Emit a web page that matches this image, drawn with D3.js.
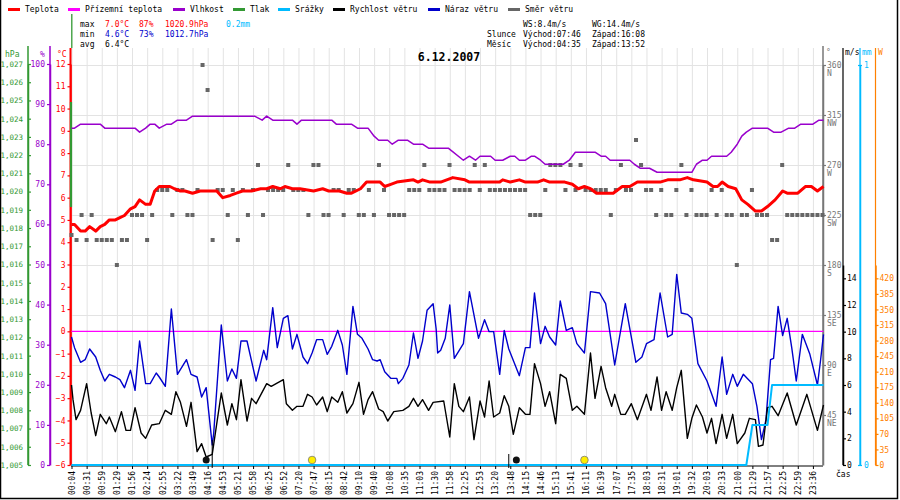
<!DOCTYPE html>
<html>
<head>
<meta charset="utf-8">
<script src="https://cdn.jsdelivr.net/npm/d3@7/dist/d3.min.js"></script>
<style>
  body { margin: 0; background: #fff; }
  svg text { font-family: "DejaVu Sans Mono", monospace; }
</style>
</head>
<body>
<div id="chart"></div>
<script>
// ── DATA ──────────────────────────────────────────────────────────────────
// One day of station records (6.12.2007). x = record number (0..497);
// a time label is printed every 10 records.
const xLabels = [
  "00:04","00:31","00:59","01:29","01:56","02:24","02:55","03:22","03:49","04:16",
  "04:53","05:21","05:58","06:25","06:52","07:20","07:47","08:15","08:42","09:10",
  "09:40","10:08","10:35","11:03","11:30","11:58","12:25","12:53","13:20","13:48",
  "14:15","14:46","15:13","15:41","16:11","16:39","17:07","17:35","18:03","18:31",
  "19:01","19:32","20:03","20:33","21:00","21:29","21:57","22:25","22:59","23:36"
];
const lastRecord = 497;

// [record, °C]
const temperature = [
  [0,4.8],[2,4.8],[6,4.5],[9,4.5],[12,4.7],[16,4.5],[19,4.7],[22,4.8],[25,5.0],[29,5.0],
  [32,5.1],[35,5.2],[39,5.5],[42,5.6],[45,5.9],[49,5.7],[52,5.7],[55,6.3],[58,6.5],[62,6.5],
  [65,6.5],[68,6.4],[72,6.3],[75,6.3],[80,6.2],[85,6.3],[92,6.3],[96,6.3],[100,6.0],[105,6.1],
  [109,6.2],[113,6.3],[119,6.3],[125,6.4],[129,6.4],[133,6.5],[138,6.4],[141,6.5],[146,6.4],[151,6.4],
  [160,6.3],[166,6.4],[170,6.3],[177,6.3],[182,6.2],[185,6.2],[191,6.4],[195,6.7],[199,6.7],[204,6.7],
  [207,6.5],[211,6.6],[215,6.7],[226,6.8],[229,6.7],[232,6.8],[237,6.7],[244,6.7],[252,6.9],[260,6.8],
  [263,6.7],[283,6.7],[285,6.8],[290,6.7],[296,6.8],[300,6.7],[308,6.7],[312,6.8],[316,6.7],[326,6.7],
  [331,6.6],[335,6.4],[339,6.5],[343,6.4],[347,6.2],[358,6.2],[364,6.5],[369,6.5],[374,6.7],[389,6.7],
  [394,6.8],[402,6.8],[407,6.9],[411,6.8],[420,6.7],[424,6.5],[427,6.5],[430,6.7],[434,6.5],[439,6.4],
  [443,5.9],[447,5.7],[452,5.4],[456,5.4],[460,5.6],[465,5.9],[470,6.3],[473,6.2],[480,6.2],[485,6.5],
  [489,6.5],[493,6.3],[497,6.5]
];

// [record, °C] – ground temperature sensor reads 0 all day
const groundTemp = [[0,0],[497,0]];

// [record, %]
const humidity = [
  [0,84],[2,84],[6,85],[19,85],[22,84],[42,84],[45,83],[49,84],[52,85],[55,85],
  [58,84],[63,85],[66,85],[70,86],[76,86],[80,87],[121,87],[126,86],[129,87],[133,86],
  [146,86],[149,85],[152,86],[172,86],[175,85],[185,85],[189,84],[196,84],[200,82],[203,81],
  [209,81],[212,80],[216,81],[222,81],[226,80],[232,80],[236,79],[249,79],[259,76],[263,77],
  [267,76],[270,77],[277,77],[280,76],[285,76],[290,77],[293,77],[296,76],[300,76],[304,77],
  [306,77],[310,76],[313,75],[325,75],[329,76],[333,78],[346,78],[350,77],[353,77],[356,76],
  [369,76],[372,75],[376,74],[382,74],[387,73],[410,73],[413,75],[417,76],[420,76],[423,77],
  [433,77],[436,78],[440,80],[443,82],[446,83],[450,84],[460,84],[464,83],[469,83],[474,84],
  [478,84],[482,85],[490,85],[494,86],[497,86]
];

// [record, mm] – daily precipitation total
const rainfall = [[0,0],[446,0],[450,0.1],[460,0.1],[463,0.2],[497,0.2]];

// [record, m/s]
const windSpeed = [
  [0,6.0],[1,4.9],[3,3.4],[6,4.1],[10,6.1],[13,3.9],[16,2.2],[19,3.8],[23,3.1],[25,3.6],
  [29,2.5],[33,4.0],[36,2.6],[39,2.6],[42,4.3],[46,2.4],[49,2.0],[53,3.0],[58,3.1],[62,4.1],
  [66,3.8],[69,5.5],[72,4.7],[76,2.9],[79,4.7],[83,1.0],[86,1.6],[89,0.6],[93,0.8],[96,3.1],
  [99,5.4],[103,3.0],[106,4.6],[109,3.4],[112,6.4],[116,3.3],[119,5.0],[122,4.6],[129,6.1],[132,5.9],
  [140,6.4],[142,4.6],[146,4.1],[149,4.4],[153,4.4],[156,5.3],[159,5.1],[162,4.5],[166,5.1],[169,4.0],
  [172,5.1],[176,4.7],[179,5.5],[182,3.9],[186,4.6],[190,6.2],[193,3.8],[196,4.9],[199,5.5],[203,4.2],
  [206,4.0],[209,3.3],[213,4.0],[219,4.1],[223,4.4],[226,5.0],[229,4.4],[232,4.9],[236,4.1],[239,4.7],
  [246,4.8],[250,2.1],[253,6.1],[256,4.4],[259,4.0],[263,5.1],[266,1.9],[270,4.8],[273,3.6],[276,6.3],
  [279,3.6],[283,3.9],[286,5.2],[289,4.4],[292,2.3],[296,4.3],[300,3.8],[303,3.8],[306,7.6],[310,6.1],
  [313,4.4],[316,5.5],[320,3.1],[323,6.8],[327,6.5],[331,4.1],[334,4.4],[339,3.8],[343,8.4],[346,5.0],
  [350,7.4],[353,5.8],[357,4.4],[359,5.3],[363,3.8],[366,3.8],[370,4.6],[374,3.4],[380,5.3],[383,4.1],
  [387,6.6],[390,4.1],[393,5.5],[397,4.1],[400,5.8],[403,7.1],[407,2.0],[410,3.5],[413,4.5],[417,3.6],
  [420,2.4],[423,3.5],[426,1.6],[430,3.8],[433,2.0],[437,3.8],[440,1.6],[445,2.4],[448,3.5],[452,3.4],
  [454,1.4],[457,1.5],[460,4.3],[463,4.4],[467,3.7],[473,5.4],[479,3.0],[486,5.3],[493,2.6],[497,4.5]
];

// [record, m/s]
const windGust = [
  [0,9.6],[2,8.8],[6,7.7],[9,7.9],[12,8.7],[16,8.1],[19,7.1],[22,6.3],[25,6.8],[29,6.6],
  [32,6.4],[35,5.8],[39,7.1],[42,5.6],[45,9.3],[49,6.1],[52,6.1],[56,6.9],[58,6.6],[62,5.9],
  [66,11.7],[70,6.8],[76,7.9],[79,6.8],[83,6.6],[86,5.1],[89,5.8],[93,1.5],[94,2.4],[99,10.5],
  [103,6.3],[106,7.2],[109,6.5],[112,9.3],[116,9.3],[122,6.3],[127,8.6],[129,7.9],[133,11.8],[136,8.8],
  [140,11.0],[143,11.2],[146,8.7],[149,9.8],[153,8.1],[156,7.6],[159,8.4],[162,9.4],[166,9.4],[169,8.3],
  [172,8.9],[176,10.1],[179,9.0],[182,6.8],[186,11.9],[189,9.8],[192,9.5],[196,8.7],[199,7.9],[202,7.8],
  [204,7.9],[207,7.0],[211,6.5],[215,6.5],[216,6.1],[219,6.5],[223,7.5],[226,9.9],[229,8.0],[232,9.3],
  [235,11.6],[239,12.1],[241,10.2],[242,8.4],[244,8.6],[247,9.5],[250,12.0],[253,8.0],[259,9.1],[263,13.0],
  [269,9.5],[273,10.9],[276,10.0],[279,10.0],[283,6.8],[286,10.1],[289,8.7],[296,6.7],[300,8.8],[303,8.8],
  [306,12.9],[310,9.1],[313,10.4],[316,9.6],[320,9.0],[323,12.3],[327,10.1],[331,10.3],[334,9.1],[339,8.4],
  [343,13.0],[349,12.9],[353,12.1],[359,7.5],[366,12.1],[373,7.7],[377,8.1],[380,9.1],[385,9.4],[389,12.9],
  [394,9.6],[397,9.8],[400,14.3],[403,11.4],[407,11.3],[410,11.0],[414,7.6],[420,6.3],[426,4.4],[430,8.1],
  [433,5.3],[437,6.8],[440,5.9],[444,6.8],[450,6.1],[453,4.4],[456,1.9],[459,3.4],[462,7.9],[464,8.0],
  [467,11.9],[470,9.7],[473,11.0],[476,8.8],[479,6.3],[483,9.8],[488,8.3],[493,6.0],[495,7.8],[497,9.8]
];

// wind direction, degrees – 150 evenly spaced samples over the day
const windDir = [
  207,202.5,225,202.5,225,202.5,202.5,202.5,202.5,180,
  202.5,202.5,225,225,225,202.5,225,247.5,247.5,247.5,
  225,247.5,247.5,225,225,247.5,360,337.5,202.5,247.5,
  247.5,225,247.5,202.5,247.5,225,247.5,270,225,247.5,
  247.5,247.5,247.5,270,247.5,247.5,247.5,225,270,270,
  225,225,247.5,247.5,225,247.5,247.5,225,225,247.5,
  225,270,247.5,225,225,225,225,247.5,247.5,247.5,
  270,247.5,247.5,247.5,
  247.5,270,247.5,247.5,247.5,247.5,270,247.5,270,247.5,
  247.5,247.5,247.5,247.5,247.5,247.5,247.5,225,225,225,
  247.5,270,270,270,247.5,270,247.5,270,247.5,247.5,
  247.5,247.5,247.5,225,247.5,270,247.5,247.5,292.5,270,
  247.5,247.5,225,247.5,225,225,247.5,270,225,247.5,
  225,225,225,247.5,225,247.5,225,225,180,225,
  225,247.5,225,225,225,202.5,202.5,270,225,225,
  225,225,225,225,225,225
];

// sun / moon rise & set, as record numbers
const sunEvents  = [159, 339];   // 07:46, 16:08
const moonEvents = [89, 294];    // 04:35, 13:52
const moonMarks  = [[93, 440], [289, 454]];  // [record, top y of marker] – short drop lines

// axis tick values
const presTicks  = d3.range(1005, 1028);
const humTicks   = [0,10,20,30,40,50,60,70,80,90,100];
const tempTicks  = d3.range(-6, 13);
const dirTicks   = [45,90,135,180,225,270,315,360];
const dirNames   = ["NE","E","SE","S","SW","W","NW","N"];
const windTicks  = [0,2,4,6,8,10,12,14];
const rainTicks  = [0,1];
const powerTicks = [0,35,70,105,140,175,210,245,280,315,350,385,420];

// ── LAYOUT ────────────────────────────────────────────────────────────────
const W = 900, H = 500;
const plot = { left: 71, right: 823, top: 48, bottom: 465 };

const svg = d3.select("#chart").append("svg")
  .attr("width", W).attr("height", H)
  .style("display", "block");

svg.append("rect").attr("width", W).attr("height", H).attr("fill", "#fff");

// ── SCALES ────────────────────────────────────────────────────────────────
const x      = d3.scaleLinear().domain([0, lastRecord]).range([71.5, 823.5]);
const xDir   = d3.scaleLinear().domain([0, windDir.length - 1]).range([x(0), x(lastRecord) - 1]);
const yTemp  = d3.scaleLinear().domain([-6, 12]).range([465, 64]);
const yHum   = d3.scaleLinear().domain([0, 100]).range([465, 64]);
const yPres  = d3.scaleLinear().domain([1005, 1027]).range([465, 64]);
const yDir   = d3.scaleLinear().domain([0, 360]).range([465, 65]);
const yWind  = d3.scaleLinear().domain([0, 15]).range([465, 265]);
const yRain  = d3.scaleLinear().domain([0, 1]).range([465, 65]);
const yPower = d3.scaleLinear().domain([0, 450]).range([465, 265]);

const C = {
  temp: "#ff0000", ground: "#ff00ff", hum: "#9900cc", pres: "#339933",
  rain: "#00bbff", wind: "#000000", gust: "#0000cc", dir: "#666666",
  power: "#ff8000", grid: "#e3e3e3"
};
const FS = "8px";
const MONO = '"DejaVu Sans Mono", monospace';

// ── GRID ──────────────────────────────────────────────────────────────────
const tickIdx = xLabels.map((_, i) => i * 10);

svg.append("g")
  .attr("transform", `translate(0,${plot.bottom})`)
  .call(d3.axisBottom(x).tickValues(tickIdx).tickSize(-(plot.bottom - plot.top)).tickFormat(""))
  .call(ax => ax.select(".domain").remove())
  .call(ax => ax.selectAll(".tick line").attr("stroke", C.grid));

svg.append("g")
  .attr("transform", `translate(${plot.left},0)`)
  .call(d3.axisRight(yDir).tickValues(dirTicks).tickSize(plot.right - plot.left).tickFormat(""))
  .call(ax => ax.select(".domain").remove())
  .call(ax => ax.selectAll(".tick line").attr("stroke", C.grid));

// ── LEFT AXES ─────────────────────────────────────────────────────────────
function styleAxis(ax, color, size) {
  ax.select(".domain").attr("stroke", color).attr("stroke-width", 1.5);
  ax.selectAll(".tick line").attr("stroke", color).attr("stroke-width", 1.2);
  ax.selectAll(".tick text").attr("fill", color).attr("font-size", size || FS)
    .attr("font-family", MONO);
}

svg.append("g")
  .attr("transform", "translate(28,0)")
  .call(d3.axisLeft(yPres).tickValues(presTicks).tickSize(3).tickSizeOuter(0).tickPadding(2))
  .call(ax => { styleAxis(ax, C.pres, "7.5px"); ax.selectAll(".tick line").attr("x2", 3); });
svg.append("line").attr("x1", 28).attr("x2", 28).attr("y1", 46).attr("y2", 465)
  .attr("stroke", C.pres).attr("stroke-width", 1.5);

svg.append("g")
  .attr("transform", "translate(50,0)")
  .call(d3.axisLeft(yHum).tickValues(humTicks).tickSize(3).tickSizeOuter(0).tickPadding(2))
  .call(ax => styleAxis(ax, C.hum));
svg.append("line").attr("x1", 50).attr("x2", 50).attr("y1", 46).attr("y2", 465)
  .attr("stroke", C.hum).attr("stroke-width", 1.5);

svg.append("g")
  .attr("transform", "translate(70.5,0)")
  .call(d3.axisLeft(yTemp).tickValues(tempTicks).tickSize(3).tickSizeOuter(0).tickPadding(2))
  .call(ax => styleAxis(ax, C.temp));
svg.append("line").attr("x1", 70.5).attr("x2", 70.5).attr("y1", 48).attr("y2", 465)
  .attr("stroke", C.temp).attr("stroke-width", 2);
// green marker line that runs down the left edge
svg.append("line").attr("x1", 71.8).attr("x2", 71.8).attr("y1", 14).attr("y2", 48)
  .attr("stroke", C.pres).attr("stroke-width", 1.3);
svg.append("line").attr("x1", 71).attr("x2", 71).attr("y1", 102).attr("y2", 207)
  .attr("stroke", C.pres).attr("stroke-width", 2.2);

[["hPa", 5, C.pres], ["%", 40, C.hum], ["°C", 57, C.temp]].forEach(([t, tx, c]) => {
  svg.append("text").attr("x", tx).attr("y", 57).attr("font-size", FS).attr("fill", c).text(t);
});

// ── RIGHT AXES ────────────────────────────────────────────────────────────
svg.append("g")
  .attr("transform", `translate(${plot.right},0)`)
  .call(d3.axisRight(yDir).tickValues(dirTicks).tickSize(3).tickSizeOuter(0).tickPadding(1))
  .call(ax => {
    styleAxis(ax, "#777");
    ax.selectAll(".tick").append("text")
      .attr("x", 4).attr("y", 10)
      .attr("fill", "#777").attr("font-size", FS)
      .attr("font-family", MONO)
      .text((d, i) => dirNames[i]);
  });
svg.append("line").attr("x1", plot.right).attr("x2", plot.right).attr("y1", 46).attr("y2", 465)
  .attr("stroke", "#777").attr("stroke-width", 1.5);

svg.append("g")
  .attr("transform", "translate(843,0)")
  .call(d3.axisRight(yWind).tickValues(windTicks).tickSize(3).tickSizeOuter(0).tickPadding(1))
  .call(ax => styleAxis(ax, C.wind));
svg.append("line").attr("x1", 843).attr("x2", 843).attr("y1", 48).attr("y2", 465)
  .attr("stroke", C.wind).attr("stroke-width", 1.2);

svg.append("g")
  .attr("transform", "translate(860,0)")
  .call(d3.axisRight(yRain).tickValues(rainTicks).tickSize(2).tickSizeOuter(0).tickPadding(2)
    .tickFormat(d3.format("d")))
  .call(ax => { styleAxis(ax, C.rain); ax.selectAll(".tick line").attr("x1", -2); });
svg.append("line").attr("x1", 860).attr("x2", 860).attr("y1", 48).attr("y2", 465)
  .attr("stroke", C.rain).attr("stroke-width", 1.2);

svg.append("g")
  .attr("transform", "translate(875.5,0)")
  .call(d3.axisRight(yPower).tickValues(powerTicks).tickSize(3).tickSizeOuter(0).tickPadding(1))
  .call(ax => styleAxis(ax, C.power));
svg.append("line").attr("x1", 875.5).attr("x2", 875.5).attr("y1", 48).attr("y2", 465)
  .attr("stroke", C.power).attr("stroke-width", 1.2);

[["°", 826, "#777"], ["m/s", 845, C.wind], ["mm", 862, C.rain], ["W", 878, C.power]].forEach(([t, tx, c]) => {
  svg.append("text").attr("x", tx).attr("y", 55).attr("font-size", FS).attr("fill", c).text(t);
});

svg.append("text").attr("x", 836).attr("y", 477).attr("font-size", FS).text("čas");

// ── X AXIS ────────────────────────────────────────────────────────────────
svg.append("g")
  .attr("transform", `translate(0,${plot.bottom + 1})`)
  .call(d3.axisBottom(x).tickValues(tickIdx).tickSize(3).tickSizeOuter(0).tickFormat((d, i) => xLabels[i]))
  .call(ax => ax.select(".domain").attr("stroke", "#000").attr("d", `M${plot.left},0H${plot.right}`))
  .call(ax => ax.selectAll(".tick line").attr("stroke", "#000"))
  .call(ax => ax.selectAll(".tick text")
    .attr("font-size", FS).attr("fill", "#000")
    .attr("font-family", MONO)
    .attr("text-anchor", "end")
    .attr("transform", "rotate(-90)")
    .attr("x", -5).attr("y", 0).attr("dy", "0.35em"));

// ── SERIES ────────────────────────────────────────────────────────────────
const g = svg.append("g");

function drawLine(data, yScale, color, width) {
  g.append("path")
    .datum(data)
    .attr("fill", "none")
    .attr("stroke", color)
    .attr("stroke-width", width)
    .attr("stroke-linejoin", "round")
    .attr("d", d3.line().x(d => x(d[0])).y(d => yScale(d[1])));
}

drawLine(groundTemp, yTemp, C.ground, 1.2);

g.selectAll("rect.dir")
  .data(windDir)
  .join("rect")
  .attr("class", "dir")
  .attr("x", (d, i) => xDir(i) - 2)
  .attr("y", d => yDir(d) - 2)
  .attr("width", 4).attr("height", 4)
  .attr("fill", C.dir);

drawLine(humidity, yHum, C.hum, 1.5);
drawLine(windGust, yWind, C.gust, 1.4);
drawLine(windSpeed, yWind, C.wind, 1.4);
drawLine(rainfall, yRain, C.rain, 2);
drawLine(temperature, yTemp, C.temp, 3);

// sun and moon markers sit on the baseline
moonMarks.forEach(([r, top]) => {
  g.append("line").attr("x1", x(r)).attr("x2", x(r))
    .attr("y1", top).attr("y2", 468).attr("stroke", "#000").attr("stroke-width", 1);
});
g.selectAll("circle.moon").data(moonEvents).join("circle")
  .attr("class", "moon").attr("cx", d => x(d)).attr("cy", 460).attr("r", 3.5)
  .attr("fill", "#111");
g.selectAll("circle.sun").data(sunEvents).join("circle")
  .attr("class", "sun").attr("cx", d => x(d)).attr("cy", 460).attr("r", 3.8)
  .attr("fill", "#ffee00").attr("stroke", "#777").attr("stroke-width", 0.8);

// ── LEGEND ────────────────────────────────────────────────────────────────
const legend = [
  ["Teplota", 25, C.temp], ["Přízemní teplota", 85, C.ground], ["Vlhkost", 190, C.hum],
  ["Tlak", 250, C.pres], ["Srážky", 295, C.rain], ["Rychlost větru", 350, C.wind],
  ["Náraz větru", 445, C.gust], ["Směr větru", 525, C.dir]
];
legend.forEach(([t, tx, c]) => {
  svg.append("rect").attr("x", tx - 17).attr("y", 8).attr("width", 12).attr("height", 3).attr("fill", c);
  svg.append("text").attr("x", tx).attr("y", 12).attr("font-size", FS).attr("fill", "#000").text(t);
});

// ── DAY STATS ─────────────────────────────────────────────────────────────
const stats = [
  ["max", 80, 27, "#000"], ["7.0°C", 105, 27, C.temp], ["87%", 139, 27, C.temp],
  ["1020.9hPa", 165, 27, C.temp], ["0.2mm", 226, 27, C.rain],
  ["min", 80, 37, "#000"], ["4.6°C", 105, 37, C.gust], ["73%", 139, 37, C.gust],
  ["1012.7hPa", 165, 37, C.gust],
  ["avg", 80, 47, "#000"], ["6.4°C", 105, 47, "#000"],
  ["WS:8.4m/s", 523, 27, "#000"], ["WG:14.4m/s", 592, 27, "#000"],
  ["Slunce", 487, 37, "#000"], ["Východ:07:46", 523, 37, "#000"], ["Západ:16:08", 592, 37, "#000"],
  ["Měsíc", 487, 47, "#000"], ["Východ:04:35", 523, 47, "#000"], ["Západ:13:52", 592, 47, "#000"]
];
stats.forEach(([t, tx, ty, c]) => {
  svg.append("text").attr("x", tx).attr("y", ty).attr("font-size", FS).attr("fill", c).text(t);
});

svg.append("text")
  .attr("x", 449).attr("y", 61)
  .attr("text-anchor", "middle")
  .attr("font-size", "11.5px").attr("font-weight", "bold")
  .text("6.12.2007");

// ── FRAME ─────────────────────────────────────────────────────────────────
svg.append("path")
  .attr("d", "M0.5,0V498.5H897.5V0")
  .attr("fill", "none").attr("stroke", "#000").attr("stroke-width", 1.5);
</script>
</body>
</html>
